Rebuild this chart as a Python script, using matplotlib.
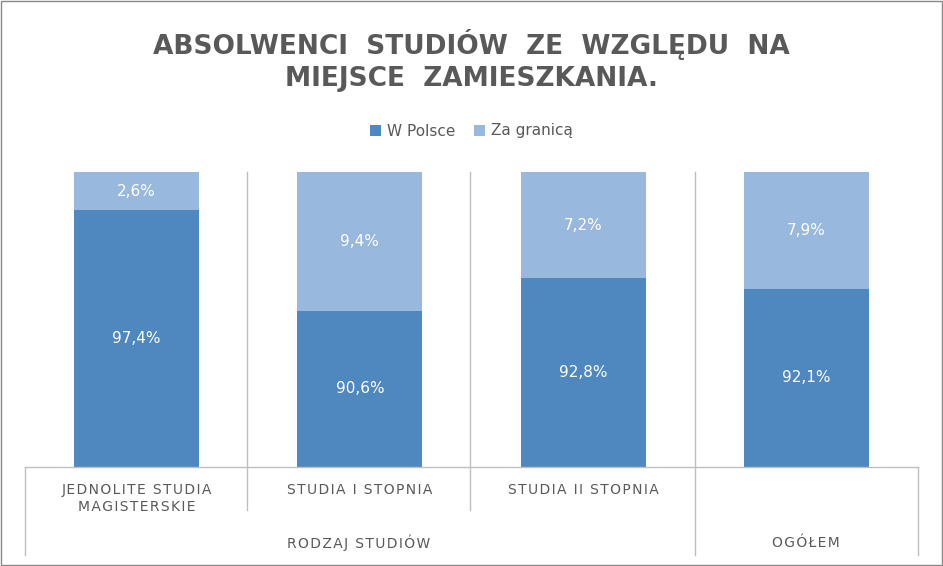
import numpy as np
import matplotlib.pyplot as plt

categories = ["JEDNOLITE STUDIA\nMAGISTERSKIE", "STUDIA I STOPNIA", "STUDIA II STOPNIA", ""]
groups = ["RODZAJ STUDIÓW", "OGÓŁEM"]
w_polsce = [97.4, 90.6, 92.8, 92.1]
za_granica = [2.6, 9.4, 7.2, 7.9]
y_min = 80

W, H = 943, 566
fig = plt.figure(figsize=(W / 100, H / 100), dpi=100)
fig.patches.append(plt.Rectangle((0.001, 0.001), 0.998, 0.997, transform=fig.transFigure,
                                 fill=False, edgecolor="#888888", linewidth=1))


def spaced(s):
    return "\n".join("\u200a".join(line) for line in s.split("\n"))


x0, x1, y0, y1 = 25, 918, 467, 172
ax = fig.add_axes([x0 / W, 1 - y0 / H, (x1 - x0) / W, (y0 - y1) / H])
x = np.arange(len(categories))
dark, light = "#4F87BF", "#98B8DE"
b1 = ax.bar(x, w_polsce, width=0.56, color=dark, label="W Polsce")
b2 = ax.bar(x, za_granica, bottom=w_polsce, width=0.56, color=light, label="Za granicą")
for xi, a, b in zip(x, w_polsce, za_granica):
    ax.text(xi, (y_min + a) / 2, f"{a:.1f}%".replace(".", ","), ha="center", va="center", color="white", fontsize=11)
    ax.text(xi, a + b / 2, f"{b:.1f}%".replace(".", ","), ha="center", va="center", color="white", fontsize=11)

ax.set_xlim(-0.5, 3.5)
ax.set_ylim(y_min, 100)
ax.axis("off")
fig.add_artist(plt.Line2D([x0 / W, x1 / W], [1 - y0 / H] * 2, color="#BFBFBF", linewidth=1))


def vline(px, top, bottom):
    fig.add_artist(plt.Line2D([px / W, px / W], [1 - top / H, 1 - bottom / H],
                              color="#BFBFBF", linewidth=1))


vline(25, 467, 555)
vline(918, 467, 555)
vline(247, 172, 510)
vline(470, 172, 510)
vline(695, 172, 555)

for xi, c in zip(x, categories):
    fig.text((x0 + (xi + 0.5) * (x1 - x0) / 4) / W, 1 - 483 / H, spaced(c), ha="center", va="top",
             fontsize=10, color="#595959", linespacing=1.3)
fig.text(359 / W, 1 - 543 / H, spaced(groups[0]), ha="center", va="center", fontsize=10, color="#595959")
fig.text(806 / W, 1 - 543 / H, spaced(groups[1]), ha="center", va="center", fontsize=10, color="#595959")

fig.text(0.5, 1 - 60 / H, "ABSOLWENCI  STUDIÓW  ZE  WZGLĘDU  NA\nMIEJSCE  ZAMIESZKANIA.", ha="center", va="center",
         fontsize=19, fontweight="bold", color="#595959", linespacing=1.3)
fig.legend(handles=[b1, b2], loc="center", bbox_to_anchor=(0.5, 1 - 131 / H), ncol=2, frameon=False,
           fontsize=11, handlelength=0.7, handleheight=0.7, handletextpad=0.4, columnspacing=1.2,
           labelcolor="#595959")
fig.savefig("out.png", dpi=100)
